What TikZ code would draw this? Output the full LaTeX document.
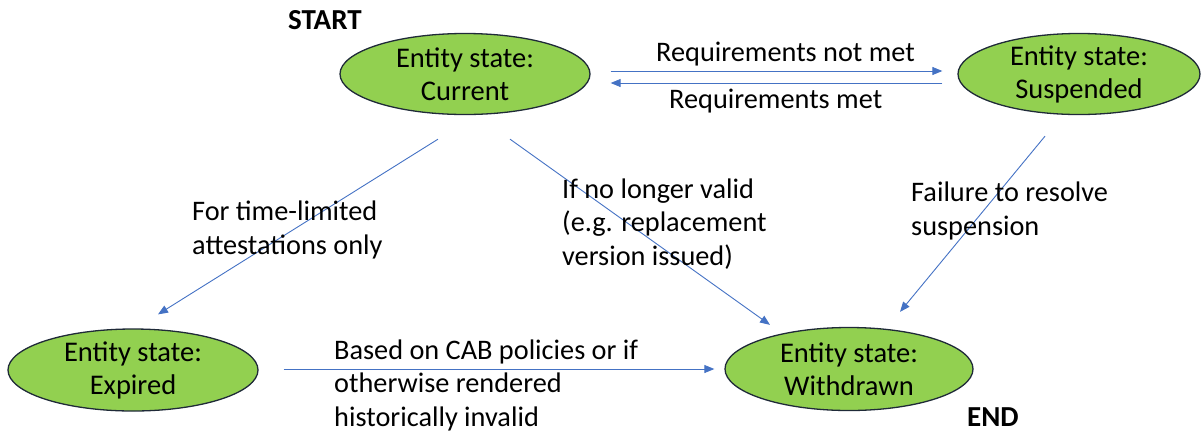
\documentclass[tikz,border=0pt]{standalone}
\usepackage{fontspec}
\setmainfont{Carlito}
\usetikzlibrary{shapes.geometric,arrows.meta}
\definecolor{stategreen}{HTML}{92D050}
\definecolor{stateedge}{HTML}{1F2A38}
\definecolor{flowblue}{HTML}{4472C4}
\tikzset{
  state/.style={ellipse, draw=stateedge, line width=1.3pt, fill=stategreen,
    inner sep=0pt, align=center, font=\fontsize{28.5}{33}\selectfont},
  % multi-line labels are placed by the baseline of their last line
  label/.style={anchor=base west, inner sep=0pt, align=left,
    font=\fontsize{28.3}{33.5}\selectfont},
  marker/.style={anchor=base west, inner sep=0pt, font=\bfseries\fontsize{29}{33}\selectfont},
  flow/.style={draw=flowblue, line width=0.9pt, -{Triangle[length=10pt,width=8pt]}}
}
\begin{document}
\begin{tikzpicture}[x=1pt,y=-1pt]
\useasboundingbox (0,0) rectangle (1204,432);

% states
\node[state, minimum width=250pt, minimum height=81pt] (cur) at (465,74) {Entity state:\\Current};
\node[state, minimum width=242pt, minimum height=80pt] (sus) at (1079,74) {Entity state:\\Suspended};
\node[state, minimum width=250pt, minimum height=82pt] (exp) at (133,370) {Entity state:\\Expired};
\node[state, minimum width=248pt, minimum height=83pt] (wd) at (849,369) {Entity state:\\Withdrawn};

% start / end markers
\node[marker] (start) at (288,29) {START};
\node[marker] (end) at (967,426) {END};

% transitions
\draw[flow] ([shift={(20,-3)}]cur.east) -- ([shift={(-15,-3)}]sus.west);
\draw[flow] ([shift={(-15,9)}]sus.west) -- ([shift={(20,9)}]cur.east);
\draw[flow] ([shift={(-27,24)}]cur.south) -- ([shift={(25,-14)}]exp.north);
\draw[flow] ([shift={(45,24)}]cur.south) -- ([shift={(-79,-2)}]wd.north);
\draw[flow] ([shift={(-34,21)}]sus.south) -- ([shift={(51,-15)}]wd.north);
\draw[flow] ([shift={(25,-1)}]exp.east) -- ([shift={(-10,0)}]wd.west);

% transition labels
\node[label] (lnotmet) at (656,61) {Requirements not met};
\node[label] (lmet) at (669,108) {Requirements met};
\node[label] (ltime) at (192,254) {For time-limited\\attestations only};
\node[label] (lvalid) at (562,265) {If no longer valid\\(e.g. replacement\\version issued)};
\node[label] (lfail) at (911,235) {Failure to resolve\\suspension};
\node[label] (lcab) at (334,426) {Based on CAB policies or if\\otherwise rendered\\historically invalid};
\end{tikzpicture}
\end{document}
